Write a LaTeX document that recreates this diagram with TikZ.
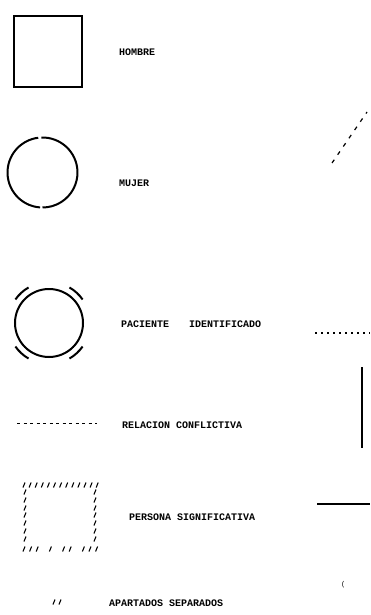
\documentclass[tikz,border=0pt]{standalone}
\usepackage{fontspec}
\newfontfamily\lblfont{Liberation Mono}
\begin{document}
\begin{tikzpicture}[x=1pt,y=-1pt,
  lbl/.style={anchor=west,inner sep=0pt,font=\lblfont\bfseries\fontsize{10}{10}\selectfont},
  thickline/.style={line width=2pt},
  slash/.style={line width=1.1pt}]
\useasboundingbox (0,0) rectangle (370,615);
% HOMBRE
\draw[thickline] (14,16) rectangle (82,87);
\node[lbl] (hombre) at (119,52) {HOMBRE};
% MUJER
\coordinate (mc) at (42.5,172.5);
\draw[thickline] ([shift={(268:35)}]mc) arc[start angle=268,end angle=450,radius=35];
\draw[thickline] ([shift={(94:35)}]mc) arc[start angle=94,end angle=263,radius=35];
\node[lbl] (mujer) at (119,183) {MUJER};
% PACIENTE IDENTIFICADO
\coordinate (pc) at (49,323);
\draw[thickline] (pc) circle[radius=34];
\foreach \a in {35,120,215,300}{
  \draw[line width=2pt] ([shift={(-\a:41)}]pc) arc[start angle=-\a,end angle=-\a-25,radius=41];
}
\node[lbl] (pac) at (121,324) {PACIENTE};
\node[lbl] (ident) at (189,324) {IDENTIFICADO};
% RELACION CONFLICTIVA
\draw[line width=1pt,dash pattern=on 3pt off 3.5pt] (17,423) -- (97,423);
\node[lbl] (rel) at (122,425) {RELACION CONFLICTIVA};
% PERSONA SIGNIFICATIVA
\foreach \i in {0,...,12}{
  \draw[slash] ({24+6.1*\i-1},487.5) -- ({24+6.1*\i+1},482.5);
}
\foreach \y in {492,500,508,515,523,531,539}{
  \draw[slash] (24,\y+2.5) -- (26,\y-2.5);
  \draw[slash] (94,\y+2.5) -- (96,\y-2.5);
}
\foreach \i in {0,1,2,4,6,7,9,10,11}{
  \draw[slash] ({24+6.6*\i-1},551.5) -- ({24+6.6*\i+1},546.5);
}
\node[lbl] (pers) at (129,517) {PERSONA SIGNIFICATIVA};
% APARTADOS SEPARADOS
\foreach \x in {54,60}{
  \draw[slash] (\x-1,604.5) -- (\x+1,599.5);
}
\node[lbl] (apart) at (109,603) {APARTADOS SEPARADOS};
% right side marks
\draw[line width=1.2pt,dash pattern=on 4pt off 6pt] (332,163) -- (367,112);
\draw[line width=1.2pt,dash pattern=on 1.5pt off 4.5pt] (315,333) -- (370,333);
\draw[line width=1.6pt] (362,367) -- (362,448);
\draw[line width=1.6pt] (317,504) -- (370,504);
\node[lbl,font=\lblfont\fontsize{7}{7}\selectfont] (mark) at (341,585) {(};
\end{tikzpicture}
\end{document}
